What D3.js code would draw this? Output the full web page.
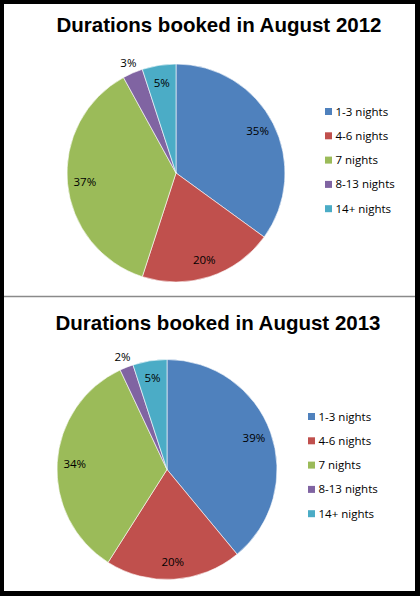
<!DOCTYPE html>
<html>
<head>
<meta charset="utf-8">
<script src="https://cdn.jsdelivr.net/npm/d3@7"></script>
<style>
	body { margin: 0; background: #000; }
	svg { display: block; }
</style>
</head>
<body>
<div id="chart"></div>
<script>
// data
const categories = ['1-3 nights', '4-6 nights', '7 nights', '8-13 nights', '14+ nights']
const shares2012 = [35, 20, 37, 3, 5]
const shares2013 = [39, 20, 34, 2, 5]
const titles = ['Durations booked in August 2012', 'Durations booked in August 2013']

const colors = ['#4F81BD', '#C0504D', '#9BBB59', '#8064A2', '#4BACC6']

const W = 420, H = 596

var svg = d3.select('#chart')
	.append('svg')
	.attr('width', W)
	.attr('height', H)

// black frame, two white panels
svg.append('rect').attr('width', W).attr('height', H).attr('fill', '#000')
svg.append('rect').attr('x', 4).attr('y', 4).attr('width', 411).attr('height', 587).attr('fill', '#fff')
svg.append('line')
	.attr('x1', 4).attr('x2', 415)
	.attr('y1', 296.5).attr('y2', 296.5)
	.attr('stroke', '#8a8a8a')
	.attr('stroke-width', 1.5)

var color = d3.scaleOrdinal().domain(categories).range(colors)

function PieChart(opts) {
	var g = svg.append('g')

	g.append('text')
		.attr('x', opts.titleX)
		.attr('y', opts.titleY)
		.attr('text-anchor', 'middle')
		.attr('font-family', 'Liberation Sans, Arial, sans-serif')
		.attr('font-weight', 'bold')
		.attr('font-size', 20.5)
		.attr('fill', '#000')
		.text(opts.title)

	var pie = d3.pie().sort(null).value(d => d.value)
	var arcs = pie(categories.map((c, i) => ({ name: c, value: opts.values[i] })))

	var r = opts.r
	var arc = d3.arc().innerRadius(0).outerRadius(r)
	var inner = d3.arc().innerRadius(r * 0.84).outerRadius(r * 0.84)
	var outer = d3.arc().innerRadius(r * 1.1).outerRadius(r * 1.1)

	var pg = g.append('g')
		.attr('transform', `translate(${opts.cx},${opts.cy})`)

	pg.selectAll('path')
		.data(arcs)
		.join('path')
		.attr('d', arc)
		.attr('fill', d => color(d.data.name))
		.attr('stroke', '#fff')
		.attr('stroke-width', 0.6)

	// small slices get their label outside the pie
	pg.selectAll('text')
		.data(arcs)
		.join('text')
		.attr('transform', d => `translate(${(d.data.value < 4 ? outer : inner).centroid(d)})`)
		.attr('text-anchor', 'middle')
		.attr('dy', '0.35em')
		.attr('font-family', 'Open Sans, sans-serif')
		.attr('font-size', 11.5)
		.attr('fill', '#000')
		.text(d => d.data.value + '%')

	// legend
	var lg = g.append('g')
		.attr('transform', `translate(${opts.legendX},${opts.legendY})`)

	var item = lg.selectAll('g')
		.data(categories)
		.join('g')
		.attr('transform', (d, i) => `translate(0,${i * 24.3})`)

	item.append('rect')
		.attr('x', 0).attr('y', -3.5)
		.attr('width', 7).attr('height', 7)
		.attr('fill', d => color(d))

	item.append('text')
		.attr('x', 10.5)
		.attr('dy', '0.35em')
		.attr('font-family', 'Open Sans, sans-serif')
		.attr('font-size', 11.5)
		.attr('fill', '#000')
		.text(d => d)
}

PieChart({ title: titles[0], values: shares2012, titleX: 219, titleY: 31.5,
	cx: 176, cy: 173, r: 109, legendX: 325, legendY: 111.5 })

PieChart({ title: titles[1], values: shares2013, titleX: 218, titleY: 330,
	cx: 167, cy: 469.5, r: 110, legendX: 308, legendY: 416.5 })
</script>
</body>
</html>
